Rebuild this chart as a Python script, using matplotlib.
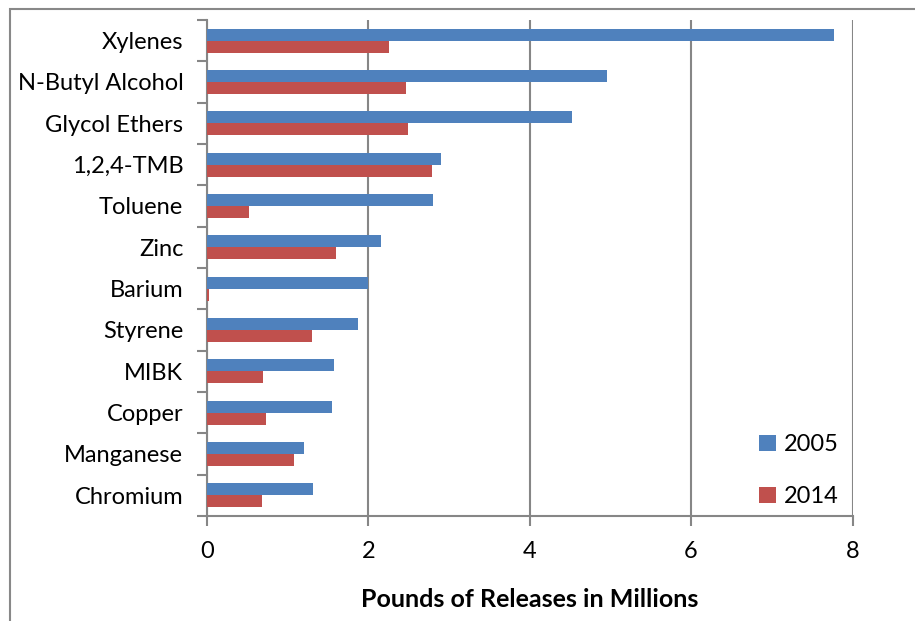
import numpy as np
import matplotlib
matplotlib.use("Agg")
import matplotlib.pyplot as plt
from matplotlib.patches import Rectangle

chemicals = ["Xylenes", "N-Butyl Alcohol", "Glycol Ethers", "1,2,4-TMB", "Toluene",
             "Zinc", "Barium", "Styrene", "MIBK", "Copper", "Manganese", "Chromium"]
releases_2005 = [7.77, 4.96, 4.52, 2.90, 2.80, 2.16, 2.00, 1.87, 1.58, 1.55, 1.20, 1.32]
releases_2014 = [2.26, 2.47, 2.49, 2.79, 0.52, 1.60, 0.02, 1.30, 0.69, 0.73, 1.08, 0.68]
x_ticks = [0, 2, 4, 6, 8]

plt.rcParams["font.family"] = ["Lato", "DejaVu Sans"]
fs = 17

fig = plt.figure(figsize=(9.15, 6.21), dpi=100)
ax = fig.add_axes([0.2262, 0.1691, 0.7055, 0.7987])

grey = "#868686"
n = len(chemicals)
pos = np.arange(n)
h = 0.29
ax.barh(pos - h / 2, releases_2005, height=h, color="#4F81BD", label="2005", zorder=3)
ax.barh(pos + h / 2, releases_2014, height=h, color="#C0504D", label="2014", zorder=3)

ax.set_ylim(n - 0.5, -0.5)
ax.set_xlim(0, 8)
ax.set_xticks(x_ticks)
ax.set_xticklabels([str(t) for t in x_ticks], fontsize=fs)
ax.set_yticks(pos)
ax.set_yticklabels(chemicals, fontsize=fs)
ax.set_yticks(np.arange(n + 1) - 0.5, minor=True)
ax.tick_params(axis="y", which="major", length=0, pad=17)
ax.tick_params(axis="y", which="minor", length=7, width=1.5, color=grey)
ax.tick_params(axis="x", length=7, width=1.5, color=grey, pad=11)

ax.xaxis.grid(True, color=grey, linewidth=1.5, zorder=0)
for side in ["top", "right"]:
    ax.spines[side].set_visible(False)
for side in ["left", "bottom"]:
    ax.spines[side].set_color(grey)
    ax.spines[side].set_linewidth(1.5)

ax.set_xlabel("Pounds of Releases in Millions", fontsize=18, fontweight="bold", labelpad=19)

ax.legend(loc="lower right", bbox_to_anchor=(1.012, -0.025), frameon=False, fontsize=fs,
          handlelength=0.7, handleheight=0.7, handletextpad=0.35, labelspacing=1.3)

# outer chart border
fig.patches.append(Rectangle((10 / 915, -0.05), 1.2, 1 - 9 / 621 + 0.05,
                             transform=fig.transFigure, fill=False,
                             edgecolor="#888888", linewidth=1.5))

fig.savefig("out.png", dpi=100)
